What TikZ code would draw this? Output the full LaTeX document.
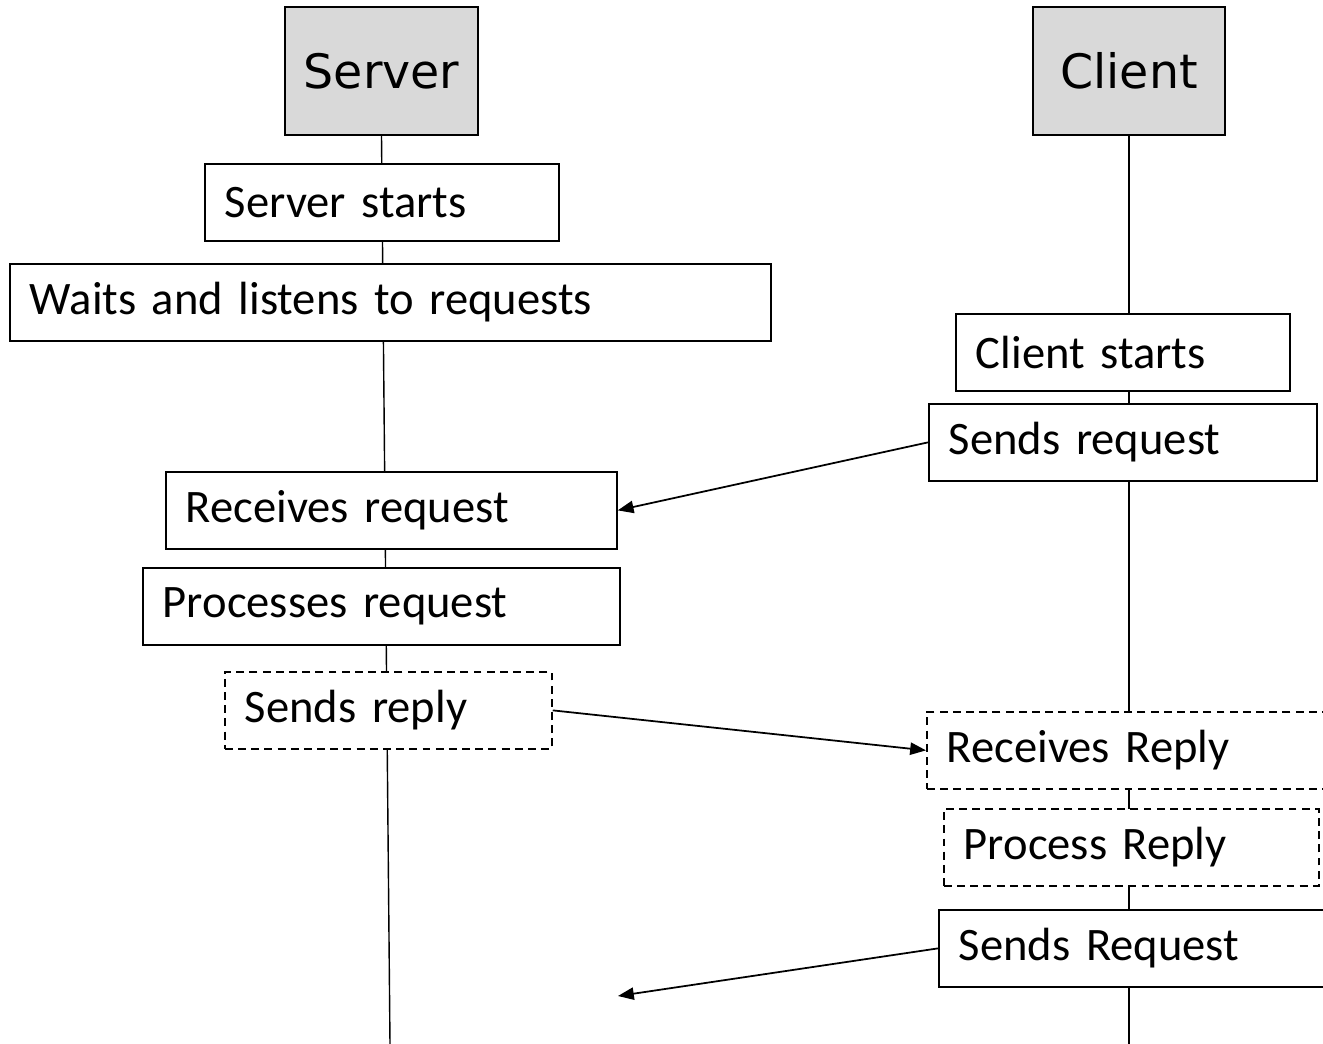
\documentclass[tikz,border=0pt]{standalone}
\usepackage{fontspec}
\setmainfont{Carlito}
\newfontfamily\dejavu{DejaVu Sans}
\usetikzlibrary{arrows.meta, positioning, backgrounds}
\definecolor{headgray}{HTML}{D9D9D9}

\begin{document}
\begin{tikzpicture}[
        basic/.style   = {draw, fill=white, line width=1pt, rectangle, inner ysep=0pt},
        head/.style    = {basic, fill=headgray, minimum width=3.85cm, minimum height=2.56cm,
                          font=\dejavu\fontsize{27}{32}\selectfont},
        stepbox/.style = {basic, anchor=north west, minimum height=1.54cm, inner xsep=0.4cm,
                          align=left, font=\fontsize{26.5}{32}\selectfont},
        maybe/.style   = {stepbox, dash pattern=on 4.5pt off 3pt},
        life/.style    = {line width=0.8pt},
        msg/.style     = {line width=1pt, -{Triangle[length=9pt, width=7pt]}}]

    % frame of the picture
    \clip (0,0) rectangle (26.46,-20.88);

    % the two parties
    \node[head] (srv) at (7.63,-1.42) {Server};
    \node[head] (cli) at (22.58,-1.42) {Client};

    % server side, top to bottom
    \node[stepbox, text width=6.28cm]  (s1) at (4.08,-3.26)  {Server starts};
    \node[stepbox, text width=14.42cm] (s2) at (0.18,-5.26)  {Waits and listens to requests};
    \node[stepbox, text width=8.22cm]  (s3) at (3.30,-9.42)  {Receives request};
    \node[stepbox, text width=8.74cm]  (s4) at (2.84,-11.34) {Processes request};
    \node[maybe,   text width=5.74cm]  (s5) at (4.48,-13.42) {Sends reply};

    % client side, top to bottom
    \node[stepbox, text width=5.88cm]  (c1) at (19.10,-6.26)  {Client starts};
    \node[stepbox, text width=6.96cm]  (c2) at (18.56,-8.06)  {Sends request};
    \node[maybe,   text width=7.60cm]  (c3) at (18.52,-14.22) {Receives Reply};
    \node[maybe,   text width=6.70cm]  (c4) at (18.86,-16.16) {Process Reply};
    \node[stepbox, text width=7.60cm]  (c5) at (18.76,-18.18) {Sends Request};

    % lower ends of the life lines
    \coordinate (srvend) at (7.80,-20.88);
    \coordinate (cliend) at (22.58,-20.88);
    \coordinate (lost)   at (12.36,-19.92);

    % life lines behind the boxes
    \begin{scope}[on background layer]
    \draw[life] (srv.south) -- (srvend);
    \draw[life] (cli.south) -- (cliend);
    \end{scope}

    % messages
    \draw[msg] (c2.west) -- (s3.east);
    \draw[msg] (s5.east) -- (c3.west);
    \draw[msg] (c5.west) -- (lost);

    \end{tikzpicture}
\end{document}
